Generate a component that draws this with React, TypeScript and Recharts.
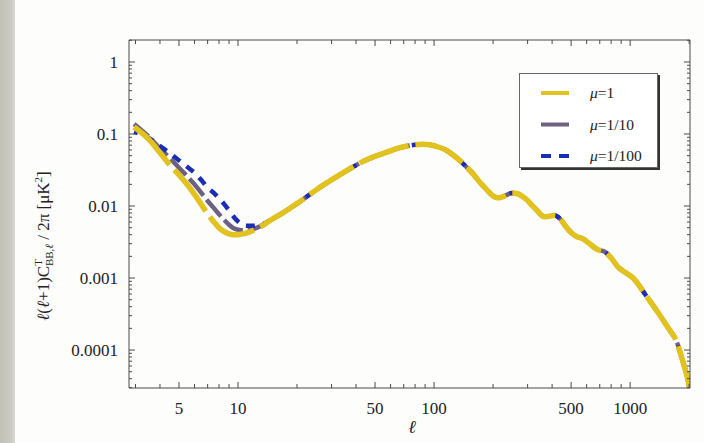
import React from "react";
import { LineChart, Line, XAxis, YAxis } from "recharts";

// ---- data ----
const lowEll = [2.95, 3.5, 4, 4.5, 5, 5.5, 6, 6.5, 7, 7.5, 8, 8.5, 9, 9.5, 10, 10.5, 11, 12, 13.4];
const mu1Low = [0.125, 0.085, 0.055, 0.037, 0.027, 0.02, 0.0145, 0.0105, 0.0078, 0.0061, 0.005, 0.0044, 0.0041, 0.004, 0.004, 0.0041, 0.0042, 0.0046, 0.0054];
const mu10Low = [0.138, 0.092, 0.063, 0.046, 0.034, 0.026, 0.02, 0.0152, 0.0118, 0.0095, 0.0077, 0.0064, 0.0055, 0.0049, 0.0047, 0.0046, 0.0046, 0.0048, 0.0055];
const mu100Low = [0.107, 0.088, 0.068, 0.054, 0.043, 0.035, 0.029, 0.023, 0.018, 0.0153, 0.0128, 0.0106, 0.0087, 0.0071, 0.0061, 0.0055, 0.0053, 0.0053, 0.0056];

const tailEll = [15, 16.9, 20, 24, 28, 33, 38, 43, 50, 57.5, 65, 72.8, 80, 88, 95, 105, 116, 125, 135, 146, 158, 172, 187, 200, 210, 220, 235, 250, 267, 285, 298, 315, 335, 350, 365, 385, 414, 440, 465, 494, 530, 576, 620, 679, 745, 800, 868, 950, 1036, 1200, 1390, 1550, 1738, 1850, 1909, 1977, 2020];
const tailValues = [0.0066, 0.008, 0.0108, 0.0154, 0.0205, 0.027, 0.034, 0.041, 0.049, 0.056, 0.063, 0.068, 0.071, 0.072, 0.071, 0.066, 0.059, 0.051, 0.043, 0.035, 0.028, 0.021, 0.0165, 0.0138, 0.013, 0.0132, 0.0143, 0.0152, 0.0148, 0.0133, 0.0121, 0.0103, 0.0087, 0.0076, 0.0071, 0.0072, 0.0074, 0.0066, 0.0054, 0.0044, 0.0038, 0.0035, 0.003, 0.0025, 0.0023, 0.0019, 0.00142, 0.00118, 0.001, 0.00058, 0.00033, 0.00021, 0.000125, 0.000072, 0.000054, 0.000037, 0.000027];

const seriesNames = ["μ=1", "μ=1/10", "μ=1/100"];
const seriesKeys = ["mu1", "mu10", "mu100"];
const seriesColors = ["#e2c21e", "#6d6180", "#1c2db5"];
const seriesDash = ["52 7", "22 5", "9 8"];
const seriesDashOffset = [0, 3, 5];
const seriesWidth = [5.5, 4.5, 4.5];

const xMajorTicks = [5, 10, 50, 100, 500, 1000];
const yMajorTicks = [0.0001, 0.001, 0.01, 0.1, 1];
const yMajorLabels = ["0.0001", "0.001", "0.01", "0.1", "1"];

const X_DOMAIN: [number, number] = [2.78, 2020];
const Y_DOMAIN: [number, number] = [2.97e-5, 2.02];

// ---- table for the chart ----
const ells = [...lowEll, ...tailEll];
const mu1 = [...mu1Low, ...tailValues];
const mu10 = [...mu10Low, ...tailValues];
const mu100 = [...mu100Low, ...tailValues];
const data = ells.map((l, i) => ({ l, mu1: mu1[i], mu10: mu10[i], mu100: mu100[i] }));

// tick positions (decade subdivisions)
const xTicks: number[] = [];
for (let d = 0; d <= 3; d++) {
  for (let k = 1; k <= 9; k++) {
    const v = k * Math.pow(10, d);
    if (v >= X_DOMAIN[0] && v <= X_DOMAIN[1]) xTicks.push(v);
  }
}
const yTicks: number[] = [];
for (let d = -5; d <= 0; d++) {
  for (let k = 1; k <= 9; k++) {
    const v = k * Math.pow(10, d);
    if (v >= Y_DOMAIN[0] && v <= Y_DOMAIN[1]) yTicks.push(v);
  }
}
const isMajor = (list: number[], v: number) => list.findIndex((m) => Math.abs(m - v) / m < 1e-6);

const FONT = "'Liberation Serif', 'DejaVu Serif', serif";
const AXIS = "#4a4a4a";
const TICK_FONT = 17;

const XTick = (props: any) => {
  const { x, y, payload, top } = props;
  const idx = isMajor(xMajorTicks, payload.value);
  const len = idx >= 0 ? 6 : 4;
  const dir = top ? 1 : -1;
  return (
    <g>
      <line x1={x} y1={y} x2={x} y2={y + dir * len} stroke={AXIS} strokeWidth={1} />
      {!top && idx >= 0 && (
        <text x={x} y={y + 26} textAnchor="middle" fontFamily={FONT} fontSize={TICK_FONT} fill="#222">
          {String(xMajorTicks[idx])}
        </text>
      )}
    </g>
  );
};

const YTick = (props: any) => {
  const { x, y, payload, right } = props;
  const idx = isMajor(yMajorTicks, payload.value);
  const len = idx >= 0 ? 6 : 3;
  const dir = right ? -1 : 1;
  return (
    <g>
      <line x1={x} y1={y} x2={x + dir * len} y2={y} stroke={AXIS} strokeWidth={1} />
      {!right && idx >= 0 && (
        <text x={x - 11} y={y + 6} textAnchor="end" fontFamily={FONT} fontSize={TICK_FONT} fill="#222">
          {yMajorLabels[idx]}
        </text>
      )}
    </g>
  );
};

const YLabel = () => (
  <text transform="translate(49,246) rotate(-90)" textAnchor="middle" fontFamily={FONT} fontSize={17} fill="#222">
    <tspan fontStyle="italic">ℓ</tspan>
    <tspan>(</tspan>
    <tspan fontStyle="italic">ℓ</tspan>
    <tspan>+1)C</tspan>
    <tspan fontSize={11} dy={-7}>T</tspan>
    <tspan fontSize={11} dx={-7} dy={11}>BB,</tspan>
    <tspan fontSize={11} fontStyle="italic">ℓ</tspan>
    <tspan dy={-4}>{" / 2π [μK"}</tspan>
    <tspan fontSize={11} dy={-7}>2</tspan>
    <tspan dy={7}>]</tspan>
  </text>
);

const XLabel = () => (
  <text x={412} y={433} textAnchor="middle" fontFamily={FONT} fontSize={18} fontStyle="italic" fill="#222">
    ℓ
  </text>
);

const LegendBox = () => (
  <div
    style={{
      position: "absolute",
      left: 519,
      top: 73,
      width: 137,
      height: 93,
      background: "#fff",
      border: "1px solid #666",
      boxShadow: "2px 2px 0 #333",
    }}
  >
    <svg width={137} height={93}>
      {seriesNames.map((name, i) => {
        const y = 19 + i * 31.5;
        const [mu, rest] = [name.slice(0, 1), name.slice(1)];
        return (
          <g key={name}>
            <line
              x1={21}
              y1={y}
              x2={49}
              y2={y}
              stroke={seriesColors[i]}
              strokeWidth={4}
              strokeDasharray={i === 2 ? "10 8" : undefined}
            />
            <text x={70} y={y + 5} fontFamily={FONT} fontSize={15.5} fill="#222">
              <tspan fontStyle="italic">{mu}</tspan>
              <tspan>{rest}</tspan>
            </text>
          </g>
        );
      })}
    </svg>
  </div>
);

export default function App() {
  const drawOrder = [1, 2, 0];
  const common = {
    type: "number" as const,
    scale: "log" as const,
    allowDataOverflow: true,
    interval: 0 as const,
    tickLine: false,
    tickSize: 0,
    tickMargin: 0,
    axisLine: { stroke: AXIS },
  };
  return (
    <div style={{ position: "absolute", left: 0, top: 0, width: 704, height: 443, background: "#fdfdfc", overflow: "hidden" }}>
      <div
        style={{
          position: "absolute",
          left: 0,
          top: 0,
          width: 15,
          height: 443,
          background: "linear-gradient(90deg, #c2c1b8 0%, #cbcac2 70%, #d8d7d0 100%)",
        }}
      />
      <LineChart width={704} height={443} data={data} margin={{ top: 30, right: 4, bottom: 25, left: 69 }}>
        <XAxis
          {...common}
          xAxisId="b"
          dataKey="l"
          domain={X_DOMAIN}
          ticks={xTicks}
          tick={<XTick />}
          height={30}
          label={<XLabel />}
        />
        <XAxis
          {...common}
          xAxisId="t"
          orientation="top"
          dataKey="l"
          domain={X_DOMAIN}
          ticks={xTicks}
          tick={<XTick top />}
          height={10}
        />
        <YAxis
          {...common}
          yAxisId="l"
          domain={Y_DOMAIN}
          ticks={yTicks}
          tick={<YTick />}
          width={60}
          label={<YLabel />}
        />
        <YAxis
          {...common}
          yAxisId="r"
          orientation="right"
          domain={Y_DOMAIN}
          ticks={yTicks}
          tick={<YTick right />}
          width={10}
        />
        {drawOrder.map((i) => (
          <Line
            key={seriesKeys[i]}
            xAxisId="b"
            yAxisId="l"
            dataKey={seriesKeys[i]}
            name={seriesNames[i]}
            type="monotone"
            stroke={seriesColors[i]}
            strokeWidth={seriesWidth[i]}
            strokeDasharray={seriesDash[i]}
            strokeDashoffset={seriesDashOffset[i]}
            dot={false}
            activeDot={false}
            isAnimationActive={false}
          />
        ))}
      </LineChart>
      <LegendBox />
    </div>
  );
}
